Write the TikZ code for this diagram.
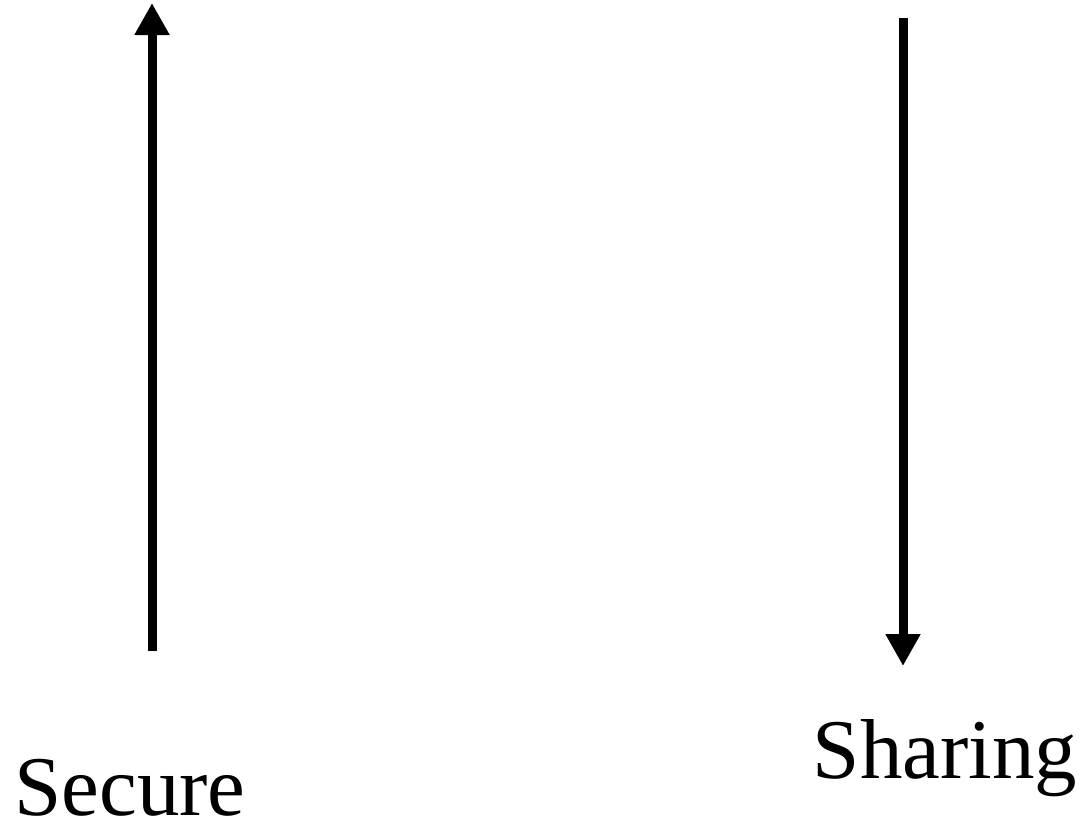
\documentclass[tikz,border=0pt]{standalone}
\usepackage{fontspec}
\setmainfont{Liberation Serif}
\usetikzlibrary{arrows.meta}
\begin{document}
\begin{tikzpicture}[x=1pt,y=-1pt,
  bigarrow/.style={line width=9pt,-{Triangle[width=33pt,length=32pt]}},
  label/.style={anchor=base,inner sep=0pt,text depth=0pt,font=\fontsize{85}{90}\selectfont}]
\useasboundingbox (0,0) rectangle (1081,820);
\coordinate (ls) at (152,651);
\coordinate (le) at (152,3);
\coordinate (rs) at (903,18);
\coordinate (re) at (903,666);
\draw[bigarrow] (ls) -- (le);
\draw[bigarrow] (rs) -- (re);
\node[label] (secure) at (130,815) {Secure};
\node[label] (sharing) at (945,778) {Sharing};
\end{tikzpicture}
\end{document}
